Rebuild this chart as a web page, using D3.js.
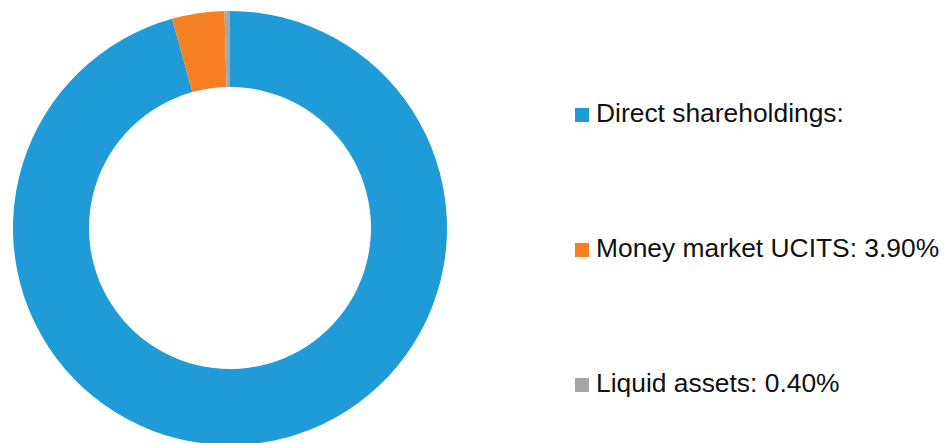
<!DOCTYPE html>
<meta charset="utf-8">
<head>
    <title>Portfolio breakdown</title>
    <script src="https://cdn.jsdelivr.net/npm/d3@7"></script>
</head>

<style>
    body { margin: 0; background: #fff; }
    text { font-family: "Liberation Sans", Arial, sans-serif; font-size: 26.4px; fill: #111; }
</style>

<svg></svg>

<script>
    // chart data
    var categories = ["Direct shareholdings", "Money market UCITS", "Liquid assets"];
    var shares = [95.7, 3.9, 0.4];
    var legendLabels = ["Direct shareholdings:", "Money market UCITS: 3.90%", "Liquid assets: 0.40%"];
    var colours = ["#1f9bd7", "#f57f22", "#a6a6a6"];

    var vWidth = 948;
    var vHeight = 443;

    var svg = d3.select('svg')
        .attr('width', vWidth)
        .attr('height', vHeight);

    var colour = d3.scaleOrdinal().domain(categories).range(colours);

    var pie = d3.pie()
        .sort(null)
        .value(function (d, i) { return shares[i]; });

    var arc = d3.arc()
        .innerRadius(141)
        .outerRadius(217);

    svg.append('g')
        .attr('transform', 'translate(230,228)')
        .selectAll('path').data(pie(categories)).enter().append('path')
        .attr('d', arc)
        .attr('fill', function (d) { return colour(d.data); });

    // legend, one row per category
    var rowY = d3.scalePoint().domain(categories).range([122, 392]);

    var rows = svg.append('g')
        .selectAll('g').data(categories).enter().append('g')
        .attr('transform', function (d) { return 'translate(575,' + rowY(d) + ')'; });

    rows.append('rect')
        .attr('x', 0)
        .attr('y', -14)
        .attr('width', 14)
        .attr('height', 14)
        .attr('fill', function (d) { return colour(d); });

    rows.append('text')
        .attr('x', 21)
        .attr('y', 0)
        .text(function (d, i) { return legendLabels[i]; });
</script>
